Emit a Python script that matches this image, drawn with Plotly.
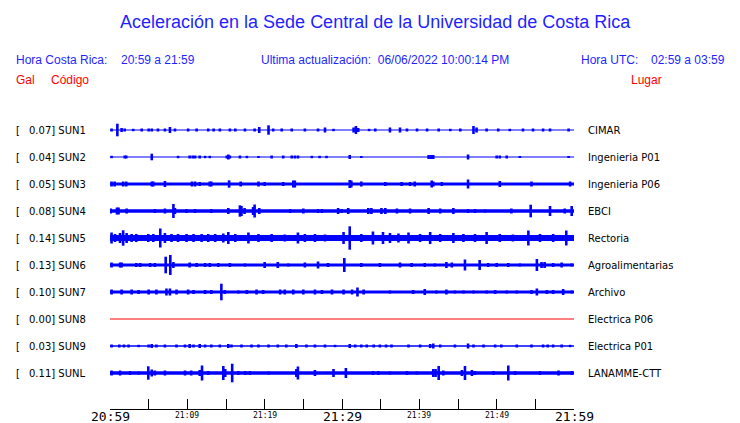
import plotly.graph_objects as go

# ---------------- data ----------------
codes = ["SUN1", "SUN2", "SUN3", "SUN4", "SUN5", "SUN6", "SUN7", "SUN8", "SUN9", "SUNL"]
places = ["CIMAR", "Ingenieria P01", "Ingenieria P06", "EBCI", "Rectoria",
          "Agroalimentarias", "Archivo", "Electrica P06", "Electrica P01", "LANAMME-CTT"]
peak_gal = [0.07, 0.04, 0.05, 0.08, 0.14, 0.13, 0.10, 0.00, 0.03, 0.11]

# background noise band thickness (px) of each trace
noise_band = [1.2, 1.0, 3.2, 3.5, 6.0, 3.0, 2.8, 1.0, 1.4, 3.5]

# burst times (minutes after 20:59) and half amplitudes (px)
sun1_t = [0.2, 0.95, 1.5, 1.9, 3.0, 4.1, 5.0, 5.4, 6.2, 7.1, 7.75, 8.4, 10.1, 11.2, 12.7, 13.4, 14.2,
          15.5, 16.2, 17.45, 18.7, 19.3, 20.5, 21.1, 22.2, 23.5, 25.2, 26.9, 27.8, 28.9,
          31.5, 31.8, 32.1, 33.5, 34.3, 36.2, 37.5, 38.4, 39.7, 41.0, 42.5, 44.0, 45.3, 47.0, 47.4,
          48.7, 50.2, 51.7, 53.4, 54.7, 56.0, 56.9, 59.3]
sun1_a = [1.5, 6.3, 2, 1.5, 1.2, 1.5, 1.5, 1.5, 1.5, 1.5, 3, 1.5, 1.5, 1.5, 1.5, 1.5, 1.5,
          1.5, 1.5, 1.5, 1.5, 3, 4.7, 1.5, 1.5, 1.5, 1.5, 1.5, 2.5, 1.2,
          2.5, 4, 2, 1.2, 1.5, 2.5, 2.5, 1.5, 1.5, 1.5, 1.5, 1.2, 1.5, 4, 2.5,
          1.5, 1.5, 1.2, 1.5, 1.5, 1.5, 1.5, 1.5]

sun2_t = [0.2, 1.9, 2.1, 5.4, 8.8, 10.3, 10.7, 11.0, 11.6, 12.3, 12.9, 15.1, 15.3, 15.5, 16.8, 17.7,
          19.2, 20.9, 22.4, 23.5, 23.9, 24.3, 26.1, 27.1, 28.0,
          31.0, 32.5, 41.2, 41.5, 41.8, 46.3, 50.0, 50.4, 51.3, 53.0, 59.3]
sun2_a = [1.2, 1.5, 1.5, 3.3, 1.2, 1.5, 1.5, 1.5, 1.5, 1.2, 1.2, 1.5, 2.5, 1.5, 1.5, 1.2,
          1.0, 1.5, 1.5, 1.5, 1.5, 1.5, 1.2, 1.2, 1.2,
          2, 1.0, 2, 2, 2, 2.5, 1.5, 1.5, 1.5, 1.0, 1.0]

sun3_t = [0.2, 0.6, 1.7, 2.1, 5.4, 5.6, 7.1, 10.6, 11.0, 11.6, 12.9, 13.1, 15.4, 16.9, 19.2, 20.0,
          22.4, 23.7, 23.9,
          31.0, 31.2, 32.5, 35.6, 37.7, 38.8, 39.4, 41.6, 41.8, 42.9, 46.3, 50.4, 54.5, 59.5]
sun3_a = [2.5, 2.5, 2.5, 2.5, 2.5, 2.5, 3, 2.5, 2.5, 2, 2.5, 2.5, 3.7, 2.5, 2.5, 2,
          2, 3.5, 3.5,
          4, 3.5, 2.5, 2, 2, 2, 2.5, 3.5, 2.5, 2, 4.5, 3, 2.5, 2.5]

sun4_t = [0.1, 0.9, 1.1, 2.15, 5.8, 7.1, 8.2, 8.4, 9.9, 11.0, 13.1, 15.3, 16.8, 17.0, 17.4, 18.5,
          18.7, 19.3, 23.3, 25.0, 26.9, 27.4, 29.5,
          29.96, 30.8, 33.4, 33.8, 35.1, 35.6, 37.1, 38.8, 41.2, 42.7, 44.4, 46.3, 47.2, 48.5,
          51.9, 54.4, 56.9, 58.8, 59.7]
sun4_a = [2.5, 3.5, 3.5, 2.5, 2, 2.5, 7, 3, 2, 2, 2, 3, 5.7, 5, 3, 4,
          6.5, 3, 2, 2.5, 2, 2, 3,
          2, 3, 3, 3, 3, 3, 2.5, 2.5, 3, 2.5, 3, 2, 2, 1.5,
          2.5, 6.3, 5, 2.5, 5]

sun5_t = [0.2, 0.65, 1.3, 1.7, 2.15, 2.8, 3.4, 4.95, 5.6, 6.5, 7.1, 7.95, 8.8, 9.9, 10.8, 11.85,
          12.7, 13.6, 14.65, 15.3, 16.2, 17.9, 19.2, 20.9, 22.6, 24.3, 25.2, 26.5, 27.8, 30.2,
          31.0, 32.5, 34.0, 35.3, 36.2, 37.3, 38.6, 40.1, 41.4, 42.7, 44.4, 45.7, 47.2, 48.7,
          50.4, 52.1, 54.1, 55.6, 57.3, 59.0]
sun5_a = [5.5, 4, 5, 7.7, 5, 4, 4, 4, 4, 9.5, 5, 4, 4, 4, 4, 4,
          4, 4, 4.5, 6, 4, 5.5, 4, 4, 3.5, 5.5, 4, 4, 3.5, 6,
          11.7, 4, 6.5, 6, 5, 4.5, 5.5, 4, 6, 4, 5, 4, 4, 6,
          4, 3.5, 7.5, 4, 4, 7.5]

sun6_t = [0.2, 1.3, 1.5, 3.4, 3.9, 5.2, 5.8, 7.2, 7.8, 8.2, 10.3, 11.2, 12.3, 12.9, 14.0, 15.5,
          17.45, 20.0, 21.7, 23.05, 25.2, 26.9, 28.2, 30.3,
          32.5, 34.9, 37.5, 39.0, 40.7, 42.0, 43.5, 44.2, 45.9, 47.8, 48.9, 50.0, 51.5, 53.0,
          55.2, 55.8, 56.2, 57.3, 58.4, 59.7]
sun6_a = [2.5, 2.5, 2.5, 2, 2, 2, 2, 8.3, 10, 3, 2.5, 2, 2, 2, 2, 2,
          1.5, 3, 3, 1.5, 2.5, 3.5, 2, 7,
          2, 2, 2.5, 2, 2, 1.5, 3, 2.5, 5.5, 5, 2, 2, 2, 1.5,
          6, 3, 3, 2, 2.5, 1.5]

sun7_t = [0.2, 1.5, 2.8, 3.7, 5.0, 6.0, 7.3, 7.75, 8.6, 10.1, 10.8, 12.3, 13.1, 14.4, 14.85, 16.6,
          17.7, 18.95, 19.8, 22.0, 22.6, 23.7, 25.0, 26.5, 27.4, 28.7, 30.2,
          31.3, 32.0, 32.8, 36.2, 39.2, 40.7, 42.2, 43.5, 44.6, 45.7, 47.0, 48.7, 49.8, 51.3,
          52.6, 54.5, 55.2, 56.5, 57.3, 58.6, 59.7]
sun7_a = [2.5, 2.5, 2.5, 2, 2.5, 2.5, 3.5, 3.5, 2.5, 2.5, 2, 2, 2, 8.3, 2, 1.5,
          2, 2.5, 2, 2.5, 2.5, 2.5, 2.5, 2.5, 2, 2.5, 2.5,
          2.5, 4.5, 2.5, 1.5, 2, 3, 1.5, 2.5, 1.5, 1.5, 1.5, 1.5, 2, 1.5,
          1.5, 2, 3.5, 2, 2, 3, 1.5]

sun8_t = []
sun8_a = []

sun9_t = [0.2, 1.2, 1.8, 2.4, 3.7, 5.0, 5.4, 6.0, 7.1, 8.6, 9.7, 10.3, 10.8, 11.6, 12.3, 13.1,
          14.2, 15.3, 15.7, 17.0, 18.3, 19.2, 20.5, 21.7, 22.8, 24.1, 25.4, 26.5, 27.8, 29.1,
          31.0, 31.7, 32.5, 33.2, 34.1, 34.9, 35.7, 36.4, 38.6, 40.1, 41.4, 41.8, 42.7, 44.6,
          46.3, 47.0, 48.3, 49.8, 50.6, 52.6, 54.5, 56.0, 56.6, 57.3, 58.4, 59.5]
sun9_a = [1.5, 1.5, 1.5, 1.5, 1.2, 1.5, 2, 1.5, 1.5, 1.5, 1.5, 2, 1.5, 2, 1.5, 1.5,
          1.5, 2, 1.5, 1.5, 1.5, 1.5, 1.5, 1.5, 1.5, 2, 1.5, 1.5, 1.5, 1.2,
          2, 1.5, 1.5, 1.5, 1.5, 1.5, 1.5, 1.5, 1.5, 1.5, 2, 2.5, 1.5, 1.5,
          2.5, 1.5, 1.5, 1.5, 1.5, 1.5, 1.5, 1.5, 1.5, 1.5, 1.5, 1.2]

sunl_t = [0.2, 1.3, 2.6, 3.7, 4.95, 5.4, 5.8, 7.1, 9.7, 10.5, 11.6, 11.9, 12.7, 14.65, 14.9, 15.8,
          16.6, 17.5, 18.1, 20.5, 24.1, 24.3, 26.5, 28.9,
          30.5, 34.0, 34.7, 36.2, 38.4, 39.7, 41.8, 42.1, 42.5, 43.1, 45.5, 45.9, 46.8, 47.2,
          49.6, 51.5, 52.4, 55.6, 58.0, 59.7]
sunl_a = [2.5, 2.5, 2, 1.5, 6.7, 3.5, 2.5, 2.5, 2.5, 2.5, 3, 7.5, 2, 7, 4, 9.3,
          2, 2, 2, 1.5, 4, 6.5, 3, 4,
          5, 2, 2, 1.5, 2, 1.5, 4, 4, 7, 2.5, 3, 7, 3, 2,
          2, 7.5, 2, 2, 2.5, 2]

burst_t = [sun1_t, sun2_t, sun3_t, sun4_t, sun5_t, sun6_t, sun7_t, sun8_t, sun9_t, sunl_t]
burst_a = [sun1_a, sun2_a, sun3_a, sun4_a, sun5_a, sun6_a, sun7_a, sun8_a, sun9_a, sunl_a]

tick_minutes = [0, 5, 10, 15, 20, 25, 30, 35, 40, 45, 50, 55, 60]
label_minutes = [0, 10, 20, 30, 40, 50, 60]
label_text = ["20:59", "21:09", "21:19", "21:29", "21:39", "21:49", "21:59"]
label_big = [True, False, False, True, False, False, True]

# ---------------- layout geometry ----------------
# the page puts the figure 8 px in from the window's top-left corner,
# so all window positions below are shifted by OFF
OFF = 8
W, H = 740, 423
PL, PR, PT, PB = 110 - OFF, 574 - OFF, 115 - OFF, 409 - OFF   # plot area in figure pixels
ROW0, ROWSTEP = 130 - OFF, 27


def px_x(px):
    return (px - OFF - PL) / (PR - PL)


def px_y(py):
    return (PB - (py - OFF)) / (PB - PT)


BLUE = "#0000ff"
TXT_BLUE = "#1f1fff"
RED = "#ff0000"

fig = go.Figure()

for i, code in enumerate(codes):
    c = ROW0 + ROWSTEP * i
    color = RED if code == "SUN8" else BLUE
    # background noise band
    fig.add_trace(go.Scatter(x=[0, 60], y=[c, c], mode="lines",
                             line=dict(color=color, width=noise_band[i]),
                             hoverinfo="skip", showlegend=False))
    xs, ys = [], []
    for t, a in zip(burst_t[i], burst_a[i]):
        xs += [t, t, None]
        ys += [c - a, c + a, None]
    if xs:
        fig.add_trace(go.Scatter(x=xs, y=ys, mode="lines",
                                 line=dict(color=color, width=2.6),
                                 hoverinfo="skip", showlegend=False))

annotations = []


def txt(x, y, s, size, color, font="Liberation Sans", xanchor="left", xref="paper", yref="paper"):
    annotations.append(dict(x=x, y=y, xref=xref, yref=yref, text=s, showarrow=False,
                            xanchor=xanchor, yanchor="middle",
                            font=dict(family=font, size=size, color=color)))


# title & header (positions in window pixels)
txt(px_x(375), px_y(22), "Aceleración en la Sede Central de la Universidad de Costa Rica", 18,
    TXT_BLUE, xanchor="center")
txt(px_x(14), px_y(60), "Hora Costa Rica:", 12, TXT_BLUE)
txt(px_x(119), px_y(60), "20:59 a 21:59", 12, TXT_BLUE)
txt(px_x(259), px_y(60), "Ultima actualización:  06/06/2022 10:00:14 PM", 12, TXT_BLUE)
txt(px_x(579), px_y(60), "Hora UTC:", 12, TXT_BLUE)
txt(px_x(649), px_y(60), "02:59 a 03:59", 12, TXT_BLUE)
txt(px_x(14), px_y(80), "Gal", 12, RED)
txt(px_x(49), px_y(80), "Código", 12, RED)
txt(px_x(629), px_y(80), "Lugar", 12, RED)

# row labels
for i, code in enumerate(codes):
    c = ROW0 + ROWSTEP * i
    txt(px_x(14), c, "[", 10, "black", font="DejaVu Sans", yref="y")
    txt(px_x(27), c, f"{peak_gal[i]:.2f}] {code}", 10, "black", font="DejaVu Sans", yref="y")
    txt(px_x(586), c, places[i], 10, "black", font="DejaVu Sans", yref="y")

# time labels
for m, s, big in zip(label_minutes, label_text, label_big):
    annotations.append(dict(x=m, xref="x", y=px_y(416 if big else 415), yref="paper",
                            text=s, showarrow=False, xanchor="center", yanchor="middle",
                            font=dict(family="DejaVu Sans Mono", size=13 if big else 8,
                                      color="black")))

fig.update_layout(
    width=W, height=H,
    margin=dict(l=PL, r=W - PR, t=PT, b=H - PB, pad=0),
    paper_bgcolor="white", plot_bgcolor="white",
    showlegend=False,
    annotations=annotations,
    xaxis=dict(range=[0, 60], tickvals=tick_minutes, ticks="inside", ticklen=10,
               tickwidth=1, tickcolor="black", showticklabels=False, showgrid=False,
               zeroline=False, showline=True, linecolor="black", linewidth=1),
    yaxis=dict(range=[PB, PT], showticklabels=False, showgrid=False, zeroline=False,
               ticks="", showline=False),
)

fig.write_html("out.html", config={"displayModeBar": False})
